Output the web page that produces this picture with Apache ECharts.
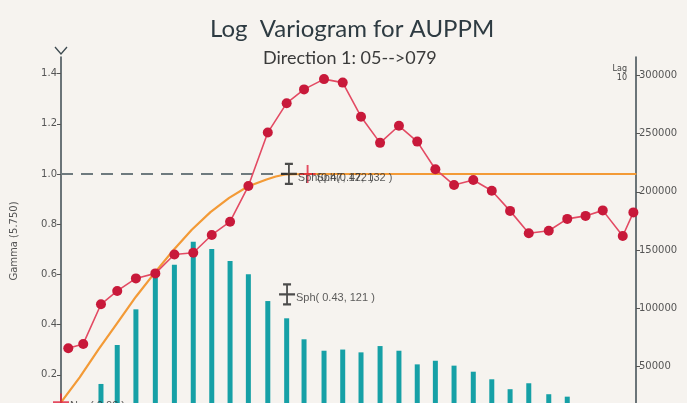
<!DOCTYPE html>
<html>
<head>
<meta charset="utf-8">
<script src="https://cdn.jsdelivr.net/npm/echarts@6/dist/echarts.min.js"></script>
<style>
html,body{margin:0;padding:0;background:#f6f3ef;overflow:hidden;}
#wrap{width:687px;height:403px;overflow:hidden;position:relative;}
#c{width:687px;height:430px;}
</style>
</head>
<body>
<div id="wrap"><div id="c"></div></div>
<script>
// Experimental variogram: lag distance and gamma
var lags = [3.9, 11.9, 21.4, 30.1, 40.1, 50.5, 60.7, 70.8, 80.7, 90.5, 100.3, 110.7, 120.8, 130.1, 140.8, 150.8,
            160.6, 170.8, 180.9, 190.7, 200.4, 210.4, 220.7, 230.6, 240.4, 250.4, 261.1, 271.0, 280.8, 290.0, 300.7, 306.4];
var gamma = [0.306, 0.323, 0.481, 0.534, 0.584, 0.604, 0.679, 0.686, 0.757, 0.810, 0.952, 1.165, 1.282, 1.337, 1.378, 1.364,
             1.228, 1.124, 1.192, 1.129, 1.019, 0.956, 0.976, 0.933, 0.853, 0.764, 0.774, 0.821, 0.833, 0.855, 0.753, 0.847];
// Number of pairs per lag (right axis)
var pairs = [5000, 12000, 35200, 68600, 99200, 128600, 137500, 157200, 150900, 140600, 129200, 106300, 91500, 73500, 63700, 64700,
             62300, 67700, 63700, 52000, 55100, 50900, 45700, 39200, 30700, 35800, 26400, 24300, 17000, 15000, 12000, 6000];
// Fitted model curve
var modelLag = [0, 10, 20, 30, 40, 50, 60, 70, 80, 90, 100, 110, 115, 120, 130, 308];
var modelGamma = [0.09, 0.19, 0.30, 0.405, 0.51, 0.605, 0.695, 0.778, 0.848, 0.905, 0.95, 0.978, 0.99, 0.998, 1.0, 1.0];
// Sill reference line
var sillLag = [0, 121];
var sillGamma = [1.0, 1.0];
// Tick labels
var leftTicks = [0.2, 0.4, 0.6, 0.8, 1.0, 1.2, 1.4];
var rightTicks = [50000, 100000, 150000, 200000, 250000, 300000];
// Model annotations
var sphMarks = [
  {lag: 121, g: 0.52, text: 'Sph( 0.43, 121 )', kind: 'black'},
  {lag: 122, g: 1.0, text: 'Sph(0.47, 122 )', kind: 'black'},
  {lag: 132, g: 1.0, text: 'Sph(0.47, 132 )', kind: 'red'},
  {lag: 0, g: 0.09, text: 'Nug( 0.09 )', kind: 'red'}
];

function zip(a, b) { return a.map(function (v, i) { return [v, b[i]]; }); }

var iBeam = 'path://M4,0 L12,0 M8,0 L8,20 M4,20 L12,20 M0,10 L16,10';
var plus = 'path://M8,0 L8,18 M0,9 L16,9';

var chart = echarts.init(document.getElementById('c'), null, {renderer: 'canvas'});
var option = {
  backgroundColor: '#f6f3ef',
  animation: false,
  title: [
    {text: 'Log  Variogram for AUPPM', left: 205, top: 12,
     textStyle: {fontFamily: 'Lato', fontSize: 24, fontWeight: 'normal', color: '#2e3b42'}},
    {text: 'Direction 1: 05-->079', left: 258, top: 44,
     textStyle: {fontFamily: 'Lato', fontSize: 18, fontWeight: 'normal', color: '#3a3a3a'}}
  ],
  grid: {left: 61, right: 51, top: 57, bottom: 5},
  xAxis: {type: 'value', min: 0, max: 307.8, show: false, splitLine: {show: false}},
  yAxis: [
    {type: 'value', min: 0, max: 1.466, position: 'left',
     name: 'Gamma (5.750)', nameLocation: 'middle', nameGap: 42, nameRotate: 90,
     nameTextStyle: {fontFamily: 'DejaVu Sans', fontSize: 10, color: '#555'},
     axisLine: {show: true, lineStyle: {color: '#3d4a50', width: 1.5}},
     axisTick: {show: true, length: 4, customValues: leftTicks, lineStyle: {color: '#555'}},
     axisLabel: {customValues: leftTicks, formatter: function (v) { return v.toFixed(1); },
                 fontFamily: 'DejaVu Sans', fontSize: 10, color: '#555', margin: 4},
     splitLine: {show: false}},
    {type: 'value', min: 0, max: 315600, position: 'right',
     axisLine: {show: true, lineStyle: {color: '#3d4a50', width: 1.5}},
     axisTick: {show: true, length: 4, customValues: rightTicks, lineStyle: {color: '#555'}},
     axisLabel: {customValues: rightTicks, formatter: function (v) { return String(v); },
                 fontFamily: 'DejaVu Sans', fontSize: 10, color: '#555', margin: 3},
     splitLine: {show: false}}
  ],
  graphic: [
    {type: 'polyline', shape: {points: [[55, 47], [61, 54], [67, 47]]}, style: {stroke: '#3d4a50', lineWidth: 1.3, fill: null}},
    {type: 'text', right: 60, top: 64, style: {text: 'Lag\n10', textAlign: 'right', fontSize: 8, fontFamily: 'DejaVu Sans', fill: '#444', lineHeight: 9}}
  ],
  series: [
    {type: 'bar', yAxisIndex: 1, data: zip(lags, pairs), barWidth: 5, itemStyle: {color: '#16a0a6'}, z: 1},
    {type: 'line', data: zip(modelLag, modelGamma), smooth: false, symbol: 'none',
     lineStyle: {color: '#f39a36', width: 2.2}, z: 2},
    {type: 'line', data: zip(sillLag, sillGamma), symbol: 'none',
     lineStyle: {color: '#6e7a7e', width: 2, type: [12, 8]}, z: 2},
    {type: 'line', data: zip(lags, gamma), symbol: 'circle', symbolSize: 10,
     lineStyle: {color: '#e34a63', width: 1.6}, itemStyle: {color: '#c8193a'}, z: 3},
    {type: 'scatter', z: 5,
     data: sphMarks.map(function (m) {
       return {value: [m.lag, m.g], symbol: m.kind === 'black' ? iBeam : plus,
               symbolSize: m.kind === 'black' ? [16, 20] : [16, 18],
               itemStyle: {color: 'transparent', borderColor: m.kind === 'black' ? '#222' : '#e0203c', borderWidth: 2},
               label: {show: true, position: 'right', distance: 0, offset: [0, 4], formatter: m.text,
                       fontFamily: 'Liberation Sans', fontSize: 11, color: '#333'}};
     })}
  ]
};
chart.setOption(option);
</script>
</body>
</html>
